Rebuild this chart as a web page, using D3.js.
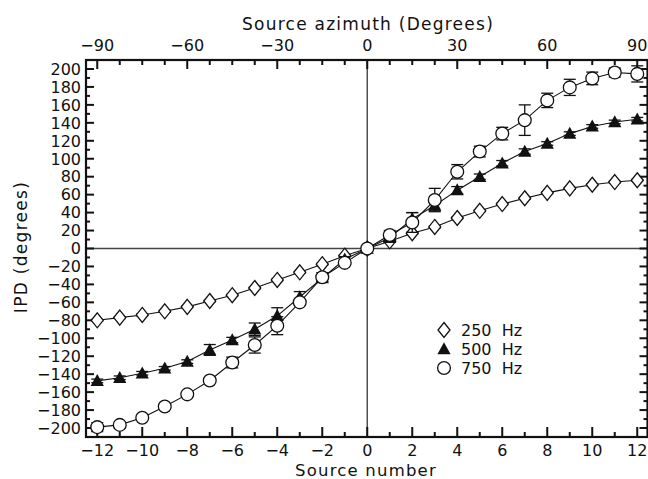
<!DOCTYPE html>
<html><head><meta charset="utf-8">
<script src="https://cdn.jsdelivr.net/npm/d3@7"></script>
<style>body{margin:0;background:#fff}svg{display:block}text{font-family:"DejaVu Sans",sans-serif;fill:#111}</style>
</head><body><svg id="c" width="648" height="479"></svg>
<script>
const sources = [-12,-11,-10,-9,-8,-7,-6,-5,-4,-3,-2,-1,0,1,2,3,4,5,6,7,8,9,10,11,12];
const ipd250 = [-80,-77,-74,-70,-65,-58.5,-52,-44,-35,-26.5,-17.5,-8,0,8,17,24,34,42,49.5,56,62,67,71,74,76];
const ipd500 = [-147.5,-144,-139,-133.5,-126,-113,-102,-90,-75,-54,-33,-12,0,12,33,48,65,80,95,108,117,128,136,141,144];
const ipd750 = [-199,-196.5,-188.5,-176,-162.5,-147,-127,-107.5,-86,-60,-32,-16,0,15,29,54,85.5,108,128,143,165,179.5,189.5,196,194.5];
const err500 = [2,2,2,2,2,6,3,7,9,6,4,3,0,3,7,6,4,3,3,3,2,2,2,2,2];
const err750 = [5,3,2,2,2,2,6,9,10,3,5,3,0,5,11,13,8,6,7,17,8,9,7,5,9];
const err250 = [1,1,1,1,1,1,1,1,1,1,1,1,0,1,1,1,1,1,1,1,1,1,1,1,1];
const bottomTicks = [-12,-10,-8,-6,-4,-2,0,2,4,6,8,10,12];
const topTicks = [-90,-60,-30,0,30,60,90];
const yTicks = [-200,-180,-160,-140,-120,-100,-80,-60,-40,-20,0,20,40,60,80,100,120,140,160,180,200];
const legendLabels = ["250  Hz","500  Hz","750  Hz"];

const svg = d3.select("#c");
const L=86, R=647.5, T=60, B=437;
const x = d3.scaleLinear().domain([-12.5,12.5]).range([L,R+1]);
const xTop = d3.scaleLinear().domain([-93.75,93.75]).range([L,R+1]);
const y = d3.scaleLinear().domain([-210,210]).range([B,T]);
const ink="#111";

// zero lines
svg.append("line").attr("x1",L).attr("x2",R).attr("y1",y(0)).attr("y2",y(0)).attr("stroke","#444").attr("stroke-width",1.4);
svg.append("line").attr("x1",x(0)).attr("x2",x(0)).attr("y1",T).attr("y2",B).attr("stroke","#444").attr("stroke-width",1.4);

// axes
const g = svg.append("g");
function tickLines(vals, scale, orient, len) {
  vals.forEach(v=>{
    const p = scale(v);
    if (orient==="b") g.append("line").attr("x1",p).attr("x2",p).attr("y1",B).attr("y2",B-len);
    if (orient==="t") g.append("line").attr("x1",p).attr("x2",p).attr("y1",T).attr("y2",T+len);
    if (orient==="l") g.append("line").attr("y1",p).attr("y2",p).attr("x1",L).attr("x2",L+len);
    if (orient==="r") g.append("line").attr("y1",p).attr("y2",p).attr("x1",R).attr("x2",R-len);
  });
}
tickLines(sources.filter(d=>d%2===0), x, "b", 10);
tickLines(sources.filter(d=>d%2!==0), x, "b", 5);
const topMinor = d3.range(-90, 90.1, 7.5);
tickLines(topTicks, xTop, "t", 9);
tickLines(topMinor.filter(d=>d%30!==0), xTop, "t", 5);
const yMinor = d3.range(-210,211,10).filter(d=>d%20!==0);
tickLines(yTicks, y, "l", 8);
tickLines(yMinor, y, "l", 4);
tickLines(yTicks, y, "r", 8);
tickLines(yMinor, y, "r", 4);
g.selectAll("line").attr("stroke",ink).attr("stroke-width",2);
svg.append("rect").attr("x",L).attr("y",T).attr("width",R-L).attr("height",B-T).attr("fill","none").attr("stroke",ink).attr("stroke-width",2.2);

const fmt = v => (v<0?"\u2212":"")+Math.abs(v);
svg.selectAll(".bl").data(bottomTicks).join("text").attr("x",d=>x(d)).attr("y",456).attr("text-anchor","middle").attr("font-size",16).text(fmt);
svg.selectAll(".tl").data(topTicks).join("text").attr("x",d=>xTop(d)).attr("y",51).attr("text-anchor","middle").attr("font-size",16).text(fmt);
svg.selectAll(".yl").data(yTicks).join("text").attr("x",81).attr("y",d=>y(d)+5.8).attr("text-anchor","end").attr("font-size",16).text(fmt);

svg.append("text").attr("x",368).attr("y",30).attr("text-anchor","middle").attr("font-size",17).attr("letter-spacing",1.25).text("Source azimuth (Degrees)");
svg.append("text").attr("x",366).attr("y",476).attr("text-anchor","middle").attr("font-size",16.5).attr("letter-spacing",1.2).text("Source number");
svg.append("text").attr("transform","translate(27,247) rotate(-90)").attr("text-anchor","middle").attr("font-size",17).attr("letter-spacing",1.3).text("IPD (degrees)");

// series
const series = [
  {vals: ipd250, err: err250, shape: "diamond"},
  {vals: ipd500, err: err500, shape: "triangle"},
  {vals: ipd750, err: err750, shape: "circle"}
];
const line = d3.line().x(d=>x(d[0])).y(d=>y(d[1]));
function marker(sel, shape) {
  if (shape==="circle") return sel.append("circle").attr("r",6.4).attr("fill","#fff").attr("stroke",ink).attr("stroke-width",1.3);
  if (shape==="triangle") return sel.append("path").attr("d","M0,-6.8L6.6,5.2L-6.6,5.2Z").attr("fill",ink);
  return sel.append("path").attr("d","M0,-7.5L6,0L0,7.5L-6,0Z").attr("fill","#fff").attr("stroke",ink).attr("stroke-width",1.3);
}
series.forEach(s=>{
  const pts = sources.map((d,i)=>[d, s.vals[i], s.err[i]]);
  svg.append("path").attr("d",line(pts)).attr("fill","none").attr("stroke",ink).attr("stroke-width",1.1);
  const eg = svg.append("g").attr("stroke",ink).attr("stroke-width",1.3);
  pts.forEach(p=>{
    if (p[2]<=0) return;
    const cx=x(p[0]), y1=y(p[1]+p[2]), y2=y(p[1]-p[2]);
    eg.append("line").attr("x1",cx).attr("x2",cx).attr("y1",y1).attr("y2",y2);
    eg.append("line").attr("x1",cx-6).attr("x2",cx+6).attr("y1",y1).attr("y2",y1);
    eg.append("line").attr("x1",cx-6).attr("x2",cx+6).attr("y1",y2).attr("y2",y2);
  });
  pts.forEach(p=>{
    const m = svg.append("g").attr("transform",`translate(${x(p[0])},${y(p[1])})`);
    marker(m, s.shape);
  });
});

// legend
const legY = [330,349,368];
series.forEach((s,i)=>{
  const m = svg.append("g").attr("transform",`translate(444,${legY[i]})`);
  marker(m, s.shape);
  svg.append("text").attr("x",461).attr("y",legY[i]+6).attr("font-size",16).attr("xml:space","preserve").style("white-space","pre").text(legendLabels[i]);
});
</script></body></html>
